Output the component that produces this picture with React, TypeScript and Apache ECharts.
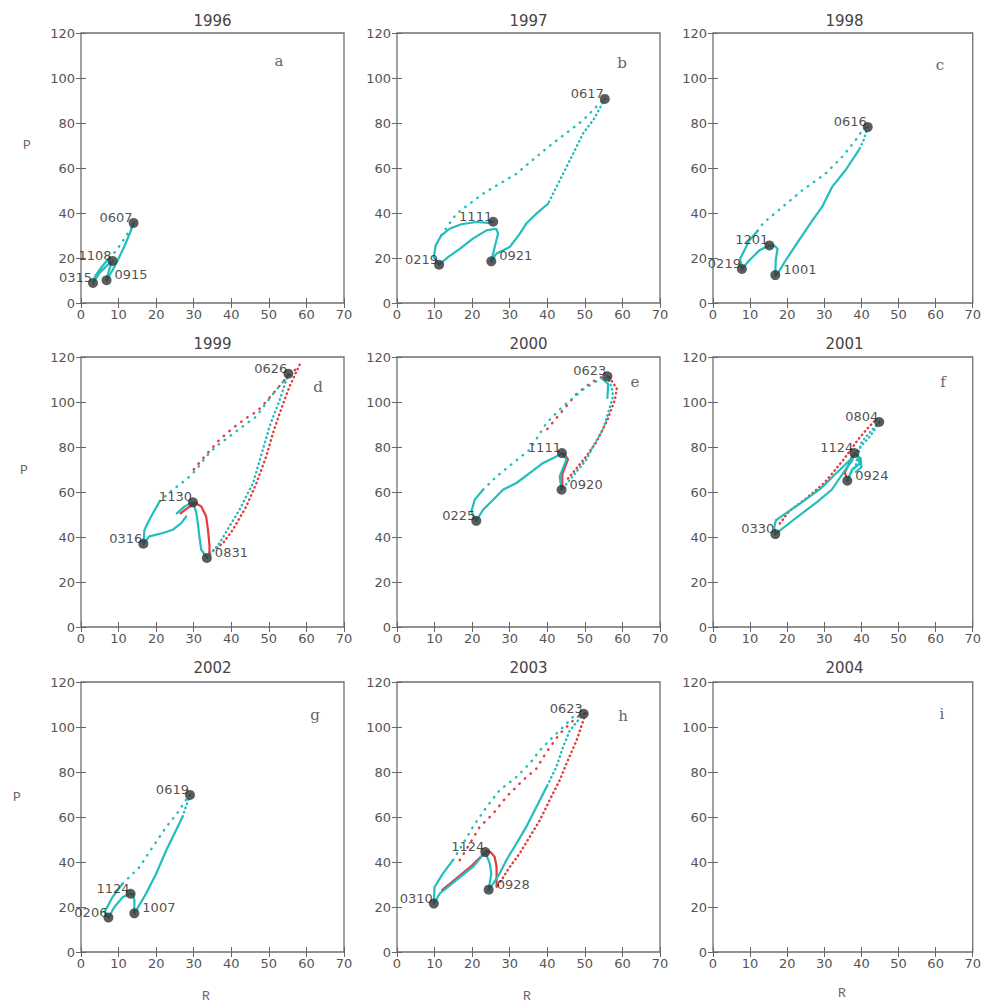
import React, { useEffect, useRef } from "react";
import * as echarts from "echarts";

// ---------- DATA (R, P) ----------
const years = ["1996", "1997", "1998", "1999", "2000", "2001", "2002", "2003", "2004"];
const panelLetters = ["a", "b", "c", "d", "e", "f", "g", "h", "i"];
const xTicks = [0, 70, 10];
const yTicks = [0, 120, 20];

// 1996
const c96RiseSolid = [[3.2, 8.9], [3.8, 12], [5.5, 16], [7.5, 20]];
const c96RiseDot = [[7.5, 20], [9.5, 23.5], [11.5, 28.5], [13.2, 33], [14.0, 35.6]];
const c96Fall = [[14.0, 35.6], [13, 31], [11.5, 25], [9.5, 18], [8, 13.5], [6.8, 10.1]];
const c96Autumn = [[6.8, 10.1], [7.5, 15], [8.4, 18.7]];
const c96Winter = [[8.4, 18.7], [6.8, 16.5], [5, 13.5], [3.8, 10.5], [3.2, 8.9]];
const m96 = [["0607", 14.0, 35.6, "L"], ["1108", 8.4, 18.7, "L"], ["0315", 3.2, 8.9, "L"], ["0915", 6.8, 10.1, "R"]];

// 1997
const c97ArcA = [[9.8, 20.4], [10.3, 25.6], [11.8, 30.1], [14, 33], [17.1, 35], [21.1, 36], [24.2, 35.6], [25.6, 36.1]];
const c97ArcB = [[9.8, 20.4], [11.2, 17], [13.6, 20.4], [16.7, 24.1], [20.2, 28.6], [23.8, 32.3], [26.4, 33], [26.9, 30.8], [26, 24.9], [25.1, 18.5]];
const c97RiseDot = [[11.8, 30.1], [15.8, 39.7], [22.9, 48.6], [31.8, 57.5], [40.2, 69.3], [49.5, 81.2], [53.5, 88], [55.3, 90.7]];
const c97FallDot = [[55.3, 90.7], [52.5, 82], [49.5, 75.3], [46, 63.4], [43.3, 54.5], [40.2, 44.1]];
const c97FallSolid = [[40.2, 44.1], [37.1, 39.7], [34.4, 35.3], [32.7, 30.8], [30, 24.9], [26.4, 21.9], [25.1, 18.5]];
const m97 = [["0617", 55.3, 90.7, "L"], ["1111", 25.6, 36.1, "L"], ["0219", 11.2, 17.0, "L"], ["0921", 25.1, 18.5, "R"]];

// 1998
const c98RiseSolid = [[7.8, 15.1], [7.3, 19.7], [8.5, 23.5], [9.8, 27.9], [12, 32]];
const c98RiseDot = [[12, 32], [13.4, 35.3], [18.7, 42.7], [24.1, 50.1], [30.3, 57.5], [34.8, 64.9], [38.4, 72.3], [40.6, 77.5], [41.7, 78.2]];
const c98FallDot = [[41.7, 78.2], [40.5, 72], [39.3, 67.9]];
const c98FallSolid = [[39.3, 67.9], [35.7, 59], [32.1, 51.6], [29.4, 42.7], [26.8, 36.7], [23.2, 27.9], [19.6, 19], [17.4, 13], [16.8, 12.4]];
const c98Loop = [[16.8, 12.4], [16.9, 19], [17.4, 24.1], [16.5, 25.5], [15.2, 25.6], [12.5, 23.4], [9.8, 19], [7.8, 15.1]];
const m98 = [["0616", 41.7, 78.2, "L"], ["1201", 15.2, 25.6, "L"], ["0219", 7.8, 15.1, "L"], ["1001", 16.8, 12.4, "R"]];

// 1999
const c99RiseSolid = [[16.6, 37], [16.9, 43.2], [18.2, 47.7], [20.9, 55.8]];
const c99RiseDot = [[20.9, 55.8], [24.4, 61], [28, 65.5], [30.7, 69.9], [33.3, 75.8], [36, 80.3], [39.5, 84.7], [43.1, 89.2], [46.7, 93.6], [49.3, 99.6], [52, 105.5], [54.7, 110.7], [55.2, 112.6]];
const c99FallDot = [[55.2, 112.6], [52.9, 101], [50.2, 89.2], [48.4, 78.8], [45.8, 64], [42.2, 52.1], [39.5, 44.7], [36.9, 37.3], [34.7, 32.9], [33.5, 30.7]];
const c99Autumn = [[33.5, 30.7], [32, 34.4], [31.5, 40.3], [31.1, 46.2], [30.7, 50.7], [29.8, 55.4]];
const c99Winter = [[29.8, 55.4], [27.5, 53.5], [25.5, 50.5]];
const c99Start = [[28, 49.2], [26.7, 46.2], [24.4, 43.2], [21.8, 41.8], [18.2, 40.3], [16.6, 37]];
const r99RiseDot = [[30, 70], [33, 76], [36.9, 83.3], [40.4, 88.4], [44, 92.9], [47, 96], [50.5, 102.5], [54, 109.5], [56.5, 113.5], [58.2, 116.6]];
const r99FallDot = [[58.2, 116.6], [55.5, 106.9], [52.9, 95.1], [51.1, 86.2], [49.3, 75.8], [46.7, 64], [44, 53.6], [40.4, 43.2], [37.8, 37.3], [35.5, 34.4], [34.2, 33]];
const r99Autumn = [[34.2, 33], [34.2, 36], [33.8, 43.2], [33.3, 49.2], [32, 53.6], [30.5, 55]];
const r99Winter = [[30.5, 55], [28, 52.5], [26.5, 50.5]];
const m99 = [["0626", 55.2, 112.6, "L"], ["1130", 29.8, 55.4, "L"], ["0316", 16.6, 37.0, "L"], ["0831", 33.5, 30.7, "R"]];

// 2000
const c00RiseSolid = [[21.1, 47.2], [19.8, 51.4], [20.7, 56.6], [22.9, 61]];
const c00RiseDot = [[22.9, 61], [26.5, 66.9], [30.9, 72.9], [35.3, 78.8], [39.8, 90.7], [44.2, 98.1], [49.5, 105.5], [53.1, 109.2], [56, 111.4]];
const c00Hook = [[54.5, 110.5], [56.2, 108], [56, 101.8]];
const c00FallDot = [[56, 111.4], [57.2, 106], [57.5, 102.5], [55.8, 93], [54.8, 87.7], [52.2, 80.3], [50.4, 74.4], [48.2, 69.9], [46, 65.5], [44.6, 62.5], [43.8, 61]];
const c00Autumn = [[43.8, 61], [43.3, 66.9], [45.1, 74.4], [43.9, 77.3]];
const c00Winter = [[43.9, 77.3], [42.4, 75.8], [38.9, 72.9], [35.3, 68.4], [31.8, 64], [28.2, 61], [25.6, 56.6], [22.9, 52.1], [21.1, 47.2]];
const r00RiseDot = [[40, 88], [44, 96], [48, 104], [52, 109], [55, 111.5]];
const r00FallDot = [[56.5, 111], [58.5, 106], [58, 101], [56, 92], [53, 82], [50, 75], [47.5, 70], [45.5, 66]];
const r00Autumn = [[44, 62], [44, 68], [45.5, 74.5], [44.5, 77]];
const m00 = [["0623", 56.0, 111.4, "L"], ["1111", 43.9, 77.3, "L"], ["0225", 21.1, 47.2, "L"], ["0920", 43.8, 61.0, "R"]];

// 2001
const c01Lower = [[16.8, 41.3], [22, 48], [28, 55.5], [32, 61], [35.7, 69.9], [37.5, 74], [38.1, 77.3]];
const c01Left = [[16.8, 41.3], [16.5, 44.5], [17, 47.5]];
const c01Upper = [[17, 47.5], [19.6, 50.5], [24, 55.5], [29, 61.5], [33, 68], [37.4, 75]];
const c01UpperDot = [[37.4, 75], [40, 80.5], [42.5, 85], [44.8, 91.1]];
const c01FallDot = [[44.8, 91.1], [42, 86], [40, 82], [39, 76], [38.5, 72], [37, 68], [36.2, 65]];
const c01Tangle = [[36.2, 65], [37.5, 70], [39.5, 72.5], [39, 76], [38.1, 77.3], [39.8, 75], [40, 71], [38.5, 69]];
const r01RiseDot = [[18, 46], [20.5, 51.4], [25, 57], [30, 64], [35, 74], [39.2, 83.5], [41.5, 88], [43.5, 91.5]];
const r01Tangle = [[36, 66.5], [35.5, 68.5], [36.5, 72], [37.5, 76]];
const m01 = [["0804", 44.8, 91.1, "L"], ["1124", 38.1, 77.3, "L"], ["0330", 16.8, 41.3, "L"], ["0924", 36.2, 65.0, "R"]];

// 2002
const c02RiseSolid = [[7.3, 15.3], [6.2, 17.8], [6.5, 18.5], [8.4, 24.4], [11.1, 30.4]];
const c02RiseDot = [[11.1, 30.4], [15.6, 37.8], [19.1, 46.7], [22.7, 55.6], [26.2, 63], [28.4, 68.9], [29, 69.8]];
const c02FallDot = [[29, 69.8], [27.8, 64], [27, 60]];
const c02FallSolid = [[27, 60], [25.3, 54.1], [22.7, 45.2], [20, 34.8], [17.3, 25.9], [14.7, 18.5], [14.2, 17.2]];
const c02Autumn = [[14.2, 17.2], [14.2, 23], [13.8, 25.5], [13.2, 25.9]];
const c02Winter = [[13.2, 25.9], [11.1, 24.4], [8.9, 20], [7.3, 15.3]];
const m02 = [["0619", 29.0, 69.8, "L"], ["1124", 13.2, 25.9, "L"], ["0206", 7.3, 15.3, "L"], ["1007", 14.2, 17.2, "R"]];

// 2003
const c03RiseSolid = [[9.8, 21.5], [10, 28.9], [12.2, 34.8], [14.9, 40.8]];
const c03RiseDot = [[14.9, 40.8], [17.6, 48.2], [20.2, 55.6], [23.8, 64.4], [27.3, 71.9], [31.8, 77.8], [35.3, 83.7], [38, 89.6], [41.5, 95.6], [44.2, 100], [46.8, 104.4], [49.7, 105.9]];
const c03FallDot = [[49.7, 105.9], [46, 98.5], [44.2, 91.1], [42.4, 82.2], [39.8, 73.3]];
const c03FallSolid = [[39.8, 73.3], [37.1, 64.4], [34.4, 55.6], [31.8, 48.2], [29.1, 40.8], [27.3, 34.8], [25.6, 30.4], [24.4, 27.7]];
const c03Autumn = [[24.4, 27.7], [25.1, 34.8], [24.7, 39.3], [23.5, 44.4]];
const c03Winter = [[23.5, 44.4], [20.2, 37.8], [15.8, 31.9], [11.4, 26], [9.8, 21.5]];
const r03RiseDot = [[16.7, 40.8], [19.4, 48.2], [22, 55.6], [25.6, 61.5], [29.1, 68.9], [33.5, 76.3], [37.1, 81.5], [39.8, 88.9], [43.3, 97], [47.8, 104.4], [50.2, 106]];
const r03FallDot = [[50.2, 106], [47.8, 94.1], [45.1, 83.7], [43.3, 76.3], [40.6, 67.4], [38, 58.5], [35.3, 51.1], [32.6, 43.7], [30, 37.8], [27.8, 31.9], [26.5, 28.9]];
const r03Autumn = [[26.5, 28.9], [26.5, 37.8], [26, 42.2], [25, 44.3], [23.8, 44.8]];
const r03Winter = [[23.8, 44.8], [20, 38.5], [16, 33], [12, 27.5]];
const m03 = [["0623", 49.7, 105.9, "L"], ["1124", 23.5, 44.4, "L"], ["0310", 9.8, 21.5, "L"], ["0928", 24.4, 27.7, "R"]];

// ---------- PANELS ----------
// cs: cyan solid, cds: cyan sparse dots, cd: cyan dense dots; r*: same for red
const panels = [
  { cs: [c96RiseSolid, c96Fall, c96Autumn, c96Winter], cds: [c96RiseDot], cd: [], rs: [], rds: [], rd: [], m: m96 },
  { cs: [c97ArcA, c97ArcB, c97FallSolid], cds: [c97RiseDot], cd: [c97FallDot], rs: [], rds: [], rd: [], m: m97 },
  { cs: [c98RiseSolid, c98FallSolid, c98Loop], cds: [c98RiseDot], cd: [c98FallDot], rs: [], rds: [], rd: [], m: m98 },
  { cs: [c99RiseSolid, c99Autumn, c99Winter, c99Start], cds: [c99RiseDot], cd: [c99FallDot], rs: [r99Autumn, r99Winter], rds: [r99RiseDot], rd: [r99FallDot], m: m99 },
  { cs: [c00RiseSolid, c00Hook, c00Autumn, c00Winter], cds: [c00RiseDot], cd: [c00FallDot], rs: [r00Autumn], rds: [r00RiseDot], rd: [r00FallDot], m: m00 },
  { cs: [c01Lower, c01Left, c01Upper, c01Tangle], cds: [], cd: [c01UpperDot, c01FallDot], rs: [r01Tangle], rds: [], rd: [r01RiseDot], m: m01 },
  { cs: [c02RiseSolid, c02FallSolid, c02Autumn, c02Winter], cds: [c02RiseDot], cd: [c02FallDot], rs: [], rds: [], rd: [], m: m02 },
  { cs: [c03RiseSolid, c03FallSolid, c03Autumn, c03Winter], cds: [c03RiseDot], cd: [c03FallDot], rs: [r03Autumn, r03Winter], rds: [r03RiseDot], rd: [r03FallDot], m: m03 },
  { cs: [], cds: [], cd: [], rs: [], rds: [], rd: [], m: [] },
];

const CYAN = "#22bdbd";
const RED = "#e23b3b";
const gridLefts = [81, 397, 713];
const gridTops = [33, 357, 682];
const GW = 263;
const GH = 270;
const letterPos = [[279, 61], [622, 63], [940, 65], [318, 387], [635, 382], [943, 382], [315, 715], [623, 716], [942, 714]];
const titleY = [21, 344, 668];
const pPos = [[27, 145], [24, 470], [17, 797]];
const rPos = [[206, 996], [527, 996], [842, 993]];

function buildOption() {
  const grid: any[] = [];
  const xAxis: any[] = [];
  const yAxis: any[] = [];
  const series: any[] = [];
  const graphic: any[] = [];
  const tick = { inside: true, length: 5, lineStyle: { color: "#666", width: 1 } };
  for (let i = 0; i < 9; i++) {
    const col = i % 3;
    const row = Math.floor(i / 3);
    grid.push({ left: gridLefts[col], top: gridTops[row], width: GW, height: GH, show: true, borderColor: "#6f6f6f", borderWidth: 1.3, backgroundColor: "transparent" });
    const xBase = { gridIndex: i, type: "value", min: xTicks[0], max: xTicks[1], interval: xTicks[2], axisLine: { show: false }, splitLine: { show: false }, axisTick: tick };
    const yBase = { gridIndex: i, type: "value", min: yTicks[0], max: yTicks[1], interval: yTicks[2], axisLine: { show: false }, splitLine: { show: false }, axisTick: tick };
    xAxis.push({ ...xBase, position: "bottom", axisLabel: { color: "#555", fontSize: 13, margin: 5, fontFamily: "DejaVu Sans" } });
    xAxis.push({ ...xBase, position: "top", axisLabel: { show: false } });
    yAxis.push({ ...yBase, position: "left", axisLabel: { color: "#555", fontSize: 13, margin: 6, fontFamily: "DejaVu Sans" } });
    yAxis.push({ ...yBase, position: "right", axisLabel: { show: false } });

    const p = panels[i];
    const addLine = (data: number[][], color: string, style: string, z: number) => {
      const type = style === "sparse" ? [0.5, 7] : style === "dense" ? [0.5, 4] : "solid";
      series.push({
        type: "line", xAxisIndex: 2 * i, yAxisIndex: 2 * i, data, symbol: "none", silent: true, z,
        lineStyle: { color, width: style === "solid" ? 2.2 : 2.4, type, cap: "round", join: "round" },
      });
    };
    p.rds.forEach((d) => addLine(d, RED, "sparse", 2));
    p.rd.forEach((d) => addLine(d, RED, "dense", 2));
    p.rs.forEach((d) => addLine(d, RED, "solid", 2));
    p.cds.forEach((d) => addLine(d, CYAN, "sparse", 3));
    p.cd.forEach((d) => addLine(d, CYAN, "dense", 3));
    p.cs.forEach((d) => addLine(d, CYAN, "solid", 3));
    if (p.m.length) {
      series.push({
        type: "scatter", xAxisIndex: 2 * i, yAxisIndex: 2 * i, symbolSize: 10, z: 5, silent: true,
        itemStyle: { color: "#333" },
        data: p.m.map((m: any) => ({
          name: m[0], value: [m[1], m[2]],
          label: {
            show: true, formatter: "{b}", position: m[3] === "L" ? [4, -0.5] : [13, -0.5],
            align: m[3] === "L" ? "right" : "left", verticalAlign: "middle",
            color: "#222", fontSize: 13, fontFamily: "DejaVu Sans",
          },
        })),
      });
    }
    graphic.push({ type: "text", x: gridLefts[col] + GW / 2, y: titleY[row], style: { text: years[i], fill: "#444", font: "15px 'DejaVu Sans'", textAlign: "center", textVerticalAlign: "middle" } });
    graphic.push({ type: "text", x: letterPos[i][0], y: letterPos[i][1], style: { text: panelLetters[i], fill: "#666", font: "15px 'DejaVu Serif'", textAlign: "center", textVerticalAlign: "middle" } });
  }
  pPos.forEach((pp) => graphic.push({ type: "text", x: pp[0], y: pp[1], style: { text: "P", fill: "#666", font: "13px 'Liberation Mono'", textAlign: "center", textVerticalAlign: "middle" } }));
  rPos.forEach((pp) => graphic.push({ type: "text", x: pp[0], y: pp[1], style: { text: "R", fill: "#666", font: "13px 'Liberation Mono'", textAlign: "center", textVerticalAlign: "middle" } }));
  return { animation: false, backgroundColor: "#fff", textStyle: { fontFamily: "DejaVu Sans" }, grid, xAxis, yAxis, series, graphic };
}

export default function App() {
  const ref = useRef<HTMLDivElement>(null);
  useEffect(() => {
    document.body.style.margin = "0";
    const chart = echarts.init(ref.current!, undefined, { renderer: "svg" });
    chart.setOption(buildOption() as any);
    return () => chart.dispose();
  }, []);
  return <div ref={ref} style={{ width: 984, height: 1003 }} />;
}
